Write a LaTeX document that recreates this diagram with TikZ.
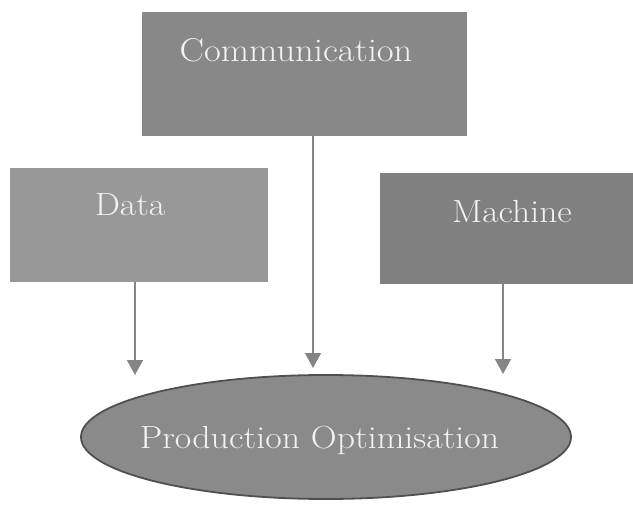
\documentclass[tikz,border=0pt]{standalone}
\usetikzlibrary{arrows.meta,shapes.geometric}
\definecolor{commfill}{HTML}{888888}
\definecolor{datafill}{HTML}{989898}
\definecolor{machfill}{HTML}{808080}
\definecolor{ellfill}{HTML}{8A8A8A}
\definecolor{elldraw}{HTML}{505050}
\definecolor{arrcol}{HTML}{858585}
\definecolor{txtcol}{HTML}{F2F2F2}
\begin{document}
\begin{tikzpicture}[x=1pt,y=-1pt,
  boxc/.style={draw=none, rectangle, inner sep=0pt},
  lbl/.style={text=txtcol, anchor=base, inner sep=0pt, xscale=1.11},
  arr/.style={draw=arrcol, line width=1.5pt, -{Triangle[width=16pt,length=15pt]}}]
\useasboundingbox (0,0) rectangle (633,506);
\node[boxc, fill=commfill, minimum width=325pt, minimum height=124pt] (comm) at (304.5,74) {};
\node[boxc, fill=datafill, minimum width=258pt, minimum height=114pt] (data) at (138.5,225) {};
\node[boxc, fill=machfill, minimum width=253pt, minimum height=111pt] (mach) at (506.5,228.5) {};
\node[ellipse, draw=elldraw, line width=1.8pt, fill=ellfill, minimum width=490pt, minimum height=124pt, inner sep=0pt] (prod) at (326,437) {};
\node[lbl, font=\fontsize{33}{38}\selectfont] (commtxt) at (296,61) {Communication};
\node[lbl, font=\fontsize{32}{36}\selectfont] (datatxt) at (130,215) {Data};
\node[lbl, font=\fontsize{32}{38}\selectfont] (machtxt) at (512,222) {Machine};
\node[lbl, font=\fontsize{32}{36}\selectfont, xscale=1.01] (prodtxt) at (319.5,448) {Production Optimisation};
\coordinate (t1) at (135,375);
\coordinate (t2) at (313,368);
\coordinate (t3) at (503,374);
\draw[arr] (data.south -| t1) -- (t1);
\draw[arr] (comm.south -| t2) -- (t2);
\draw[arr] (mach.south -| t3) -- (t3);
\end{tikzpicture}
\end{document}
